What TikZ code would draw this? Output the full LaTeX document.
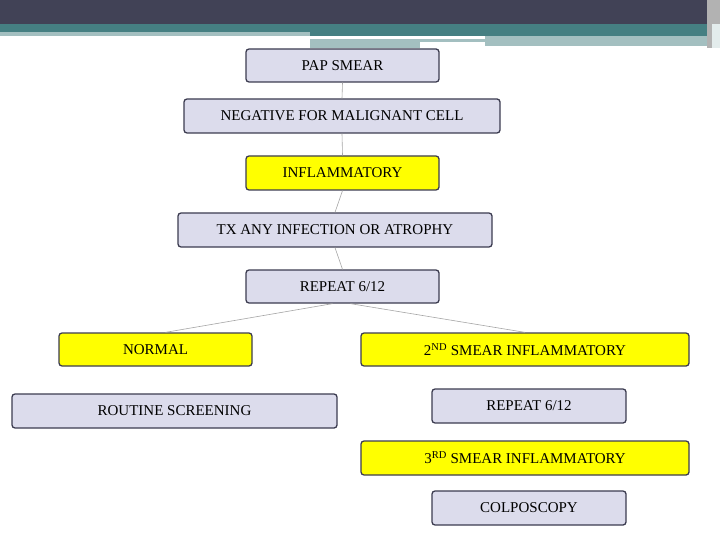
\documentclass[tikz,border=0pt]{standalone}
\usepackage{fontspec}
\setmainfont{Liberation Serif}
\definecolor{lav}{HTML}{DCDCEC}
\definecolor{yel}{HTML}{FFFF00}
\definecolor{edge}{HTML}{3C3C50}
\definecolor{dark}{HTML}{414256}
\definecolor{teal}{HTML}{457F82}
\definecolor{lteal}{HTML}{A3BFC0}
\begin{document}
\begin{tikzpicture}[x=1pt,y=-1pt,
  box/.style={draw=edge,line width=1.3pt,rounded corners=3pt,inner sep=0pt,font=\fontsize{15}{18}\selectfont},
  conn/.style={draw=gray!70,line width=0.6pt}]
\useasboundingbox (0,0) rectangle (720,540);
\fill[white] (0,0) rectangle (720,540);
% header
\fill[dark] (0,0) rectangle (720,24);
\fill[teal] (0,24) rectangle (710,32);
\fill[lteal] (0,32) rectangle (310,36);
\fill[teal] (310,32) rectangle (710,36);
\fill[lteal] (310,39) rectangle (485,42);
\fill[lteal] (310,42) rectangle (420,48);
\fill[lteal] (485,36) rectangle (710,48);
\fill[white] (420,46) rectangle (710,48);
\fill[gray!60] (707,0) rectangle (720,48);
\fill[white!85!teal] (712,24) rectangle (720,48);
% boxes
\newcommand{\bx}[6]{\node[box,fill=#5,minimum width=#3-#1,minimum height=#4-#2] (#6) at ({(#1+#3)/2},{(#2+#4)/2}) {};}
\bx{246}{49}{439}{82}{lav}{pap}
\bx{184}{99}{500}{133}{lav}{neg}
\bx{246}{156}{439}{190}{yel}{inf}
\bx{178}{213}{492}{247}{lav}{tx}
\bx{246}{270}{439}{303}{lav}{rep}
\bx{59}{333}{252}{366}{yel}{nor}
\bx{361}{333}{689}{366}{yel}{sec}
\bx{12}{394}{337}{428}{lav}{rou}
\bx{432}{389}{626}{423}{lav}{rep2}
\bx{361}{441}{689}{475}{yel}{thr}
\bx{432}{491}{626}{525}{lav}{col}
\tikzset{lbl/.style={font=\fontsize{15}{18}\selectfont}}
\node[lbl] at (pap) {PAP SMEAR};
\node[lbl] at (neg) {NEGATIVE FOR MALIGNANT CELL};
\node[lbl] at (inf) {INFLAMMATORY};
\node[lbl] at (tx) {TX ANY INFECTION OR ATROPHY};
\node[lbl] at (rep) {REPEAT 6/12};
\node[lbl] at (nor) {NORMAL};
\node[lbl] at (sec) {2\textsuperscript{ND} SMEAR INFLAMMATORY};
\node[lbl] at (rou) {ROUTINE SCREENING};
\node[lbl] at (rep2) {REPEAT 6/12};
\node[lbl] at (thr) {3\textsuperscript{RD} SMEAR INFLAMMATORY};
\node[lbl] at (col) {COLPOSCOPY};
% connectors
\draw[conn] (pap.south) -- (neg.north);
\draw[conn] (neg.south) -- (inf.north);
\draw[conn] (inf.south) -- (tx.north);
\draw[conn] (tx.south) -- (rep.north);
\coordinate (r1) at ([xshift=-10pt]rep.south);
\coordinate (r2) at ([xshift=8pt]rep.south);
\coordinate (n1) at ([xshift=10pt]nor.north);
\coordinate (s1) at ([xshift=0pt]sec.north);
\draw[conn] (r1) -- (n1);
\draw[conn] (r2) -- (s1);
\end{tikzpicture}
\end{document}
